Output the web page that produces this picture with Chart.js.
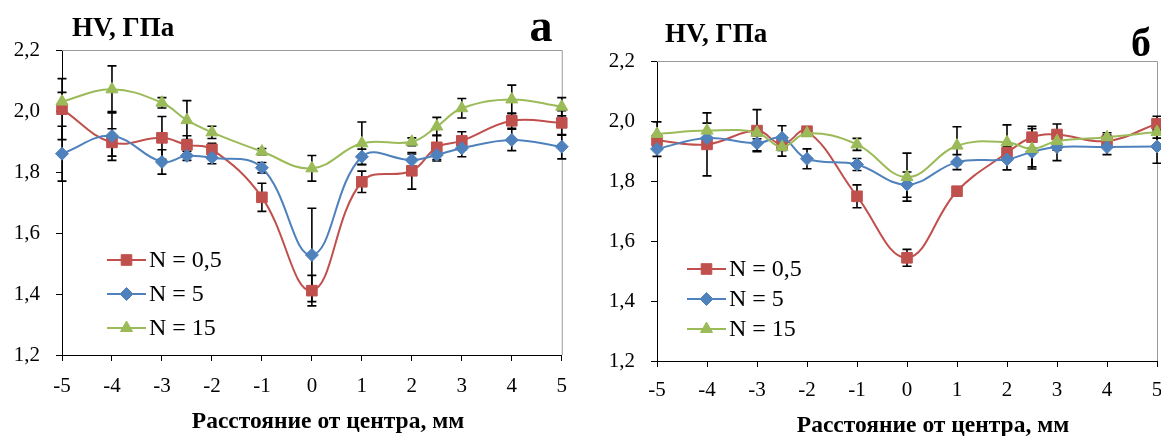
<!DOCTYPE html>
<html>
<head>
<meta charset="utf-8">
<script src="https://cdn.jsdelivr.net/npm/chart.js@4.4.1/dist/chart.umd.min.js"></script>
<style>
  html, body { margin: 0; padding: 0; background: #fff; overflow: hidden; width: 1161px; height: 436px; }
  canvas { position: absolute; top: 0; }
  #chartA { left: 0; }
  #chartB { left: 580px; }
  .probe { position: absolute; left: -1000px; top: 0; font-family: 'Liberation Serif'; }
</style>
</head>
<body>
<span class="probe">Ш</span><span class="probe" style="font-weight:bold">Ш</span>
<canvas id="chartA" width="580" height="436"></canvas>
<canvas id="chartB" width="600" height="436"></canvas>
<script>
// Distance from the weld centre, mm
const distances = [-5, -4, -3, -2.5, -2, -1, 0, 1, 2, 2.5, 3, 4, 5];
const seriesNames = ['N = 0,5', 'N = 5', 'N = 15'];
const xTickLabels = ['-5', '-4', '-3', '-2', '-1', '0', '1', '2', '3', '4', '5'];
const yTickLabels = ['1,2', '1,4', '1,6', '1,8', '2,0', '2,2'];
const yAxisTitle = 'HV, ГПа';
const xAxisTitle = 'Расстояние от центра, мм';
const panelLetters = ['а', 'б'];

// Panel а: hardness HV, GPa
const hvA_n05 = [2.006, 1.897, 1.912, 1.889, 1.874, 1.717, 1.411, 1.768, 1.804, 1.881, 1.902, 1.968, 1.961];
const hvA_n5  = [1.860, 1.918, 1.833, 1.853, 1.847, 1.814, 1.528, 1.850, 1.839, 1.856, 1.878, 1.905, 1.883];
const hvA_n15 = [2.031, 2.071, 2.027, 1.970, 1.930, 1.867, 1.812, 1.894, 1.899, 1.949, 2.009, 2.038, 2.014];
const errA_n05 = [0.100, 0.045, 0.070, 0.030, 0.020, 0.046, 0.050, 0.035, 0.060, 0.040, 0.030, 0.025, 0.040];
const errA_n5  = [0.090, 0.080, 0.040, 0.015, 0.020, 0.017, 0.153, 0.025, 0.020, 0.020, 0.028, 0.035, 0.040];
const errA_n15 = [0.030, 0.077, 0.017, 0.064, 0.020, 0.010, 0.042, 0.070, 0.013, 0.030, 0.032, 0.047, 0.030];

// Panel б: hardness HV, GPa
const hvB_n05 = [1.935, 1.922, 1.968, 1.922, 1.966, 1.749, 1.544, 1.766, 1.894, 1.946, 1.955, 1.933, 1.991];
const hvB_n5  = [1.907, 1.943, 1.926, 1.944, 1.874, 1.855, 1.788, 1.863, 1.872, 1.897, 1.913, 1.913, 1.915];
const hvB_n15 = [1.957, 1.968, 1.961, 1.913, 1.959, 1.922, 1.813, 1.918, 1.929, 1.907, 1.933, 1.946, 1.963];
const errB_n05 = [0.020, 0.105, 0.070, 0.020, 0.010, 0.038, 0.028, 0.010, 0.020, 0.036, 0.035, 0.020, 0.025];
const errB_n5  = [0.025, 0.020, 0.025, 0.040, 0.033, 0.020, 0.042, 0.025, 0.035, 0.050, 0.045, 0.025, 0.056];
const errB_n15 = [0.040, 0.025, 0.020, 0.030, 0.010, 0.020, 0.080, 0.063, 0.058, 0.067, 0.030, 0.015, 0.020];

const SERIF = 'Liberation Serif';
const COLORS = ['#C0504D', '#4F81BD', '#9BBB59'];
const MARKERS = [
  { style: 'rect', radius: 7.5 },
  { style: 'rectRot', radius: 6.5 },
  { style: 'triangle', radius: 7 }
];

function buildDatasets(values, errors) {
  return values.map((vals, i) => ({
    label: seriesNames[i],
    data: distances.map((x, k) => ({ x: x, y: vals[k] })),
    errorBars: errors[i],
    borderColor: COLORS[i],
    backgroundColor: COLORS[i],
    borderWidth: 2,
    pointStyle: MARKERS[i].style,
    pointRadius: MARKERS[i].radius,
    pointHoverRadius: MARKERS[i].radius,
    pointBorderWidth: 1,
    pointBorderColor: COLORS[i],
    pointBackgroundColor: COLORS[i],
    tension: 0.4,
    order: 2 - i,
    clip: false
  }));
}

// Grey plot-area frame on the top and right sides
const frameTopRight = {
  id: 'frameTopRight',
  beforeDatasetsDraw(chart) {
    const { ctx, chartArea: a } = chart;
    ctx.save();
    ctx.strokeStyle = '#9a9a9a';
    ctx.lineWidth = 1;
    ctx.beginPath();
    ctx.moveTo(a.left, a.top + 0.5);
    ctx.lineTo(a.right + 0.5, a.top + 0.5);
    ctx.lineTo(a.right + 0.5, a.bottom);
    ctx.stroke();
    ctx.restore();
  }
};

// Symmetric error bars with caps, positioned through the chart scales
const errorBars = {
  id: 'errorBars',
  beforeDatasetsDraw(chart) {
    const { ctx, scales: { x, y } } = chart;
    ctx.save();
    ctx.strokeStyle = '#000';
    ctx.lineWidth = 1.6;
    chart.data.datasets.forEach(ds => {
      ds.data.forEach((p, k) => {
        const e = ds.errorBars[k];
        const px = x.getPixelForValue(p.x);
        const top = y.getPixelForValue(p.y + e);
        const bot = y.getPixelForValue(p.y - e);
        ctx.beginPath();
        ctx.moveTo(px, top); ctx.lineTo(px, bot);
        ctx.moveTo(px - 4.5, top); ctx.lineTo(px + 4.5, top);
        ctx.moveTo(px - 4.5, bot); ctx.lineTo(px + 4.5, bot);
        ctx.stroke();
      });
    });
    ctx.restore();
  }
};

// Legend inside the plot area, axis captions and the panel letter
const annotations = {
  id: 'annotations',
  afterDraw(chart, args, opts) {
    const { ctx } = chart;
    ctx.save();
    chart.data.datasets.forEach((ds, i) => {
      const y = opts.legendY[i];
      ctx.strokeStyle = ds.borderColor;
      ctx.lineWidth = 2;
      ctx.beginPath();
      ctx.moveTo(opts.legendX, y);
      ctx.lineTo(opts.legendX + 39, y);
      ctx.stroke();
      ctx.fillStyle = ds.backgroundColor;
      ctx.strokeStyle = ds.borderColor;
      ctx.lineWidth = 1;
      Chart.helpers.drawPoint(ctx, {
        pointStyle: ds.pointStyle, radius: ds.pointRadius, rotation: 0, borderWidth: 1
      }, opts.legendX + 19.5, y);
      ctx.fillStyle = '#000';
      ctx.font = '24px "' + SERIF + '"';
      ctx.textBaseline = 'middle';
      ctx.textAlign = 'left';
      ctx.fillText(ds.label, opts.legendX + 42, y + 1);
    });
    ctx.fillStyle = '#000';
    ctx.textBaseline = 'alphabetic';
    // y-axis caption above the plot
    ctx.font = 'bold 27px "' + SERIF + '"';
    ctx.textAlign = 'left';
    ctx.fillText(yAxisTitle, opts.captionX, opts.captionY);
    // x-axis caption under the tick labels
    ctx.font = 'bold 23.5px "' + SERIF + '"';
    ctx.textAlign = 'center';
    ctx.fillText(xAxisTitle, opts.xTitleX, opts.xTitleY);
    // panel letter
    ctx.font = 'bold ' + opts.letterSize + 'px "' + SERIF + '"';
    ctx.fillText(opts.letter, opts.letterX, opts.letterY);
    ctx.restore();
  }
};

function makeChart(canvasId, datasets, geom) {
  return new Chart(document.getElementById(canvasId), {
    type: 'line',
    data: { datasets: datasets },
    plugins: [frameTopRight, errorBars, annotations],
    options: {
      responsive: false,
      animation: false,
      devicePixelRatio: 1,
      events: [],
      layout: { padding: { left: 0, top: geom.top, right: geom.right, bottom: 0 } },
      plugins: {
        legend: { display: false },
        tooltip: { enabled: false },
        annotations: geom.notes
      },
      scales: {
        x: {
          type: 'linear',
          min: -5, max: 5,
          afterFit(scale) { scale.height = geom.xHeight; },
          ticks: {
            stepSize: 1,
            autoSkip: false,
            maxRotation: 0,
            padding: geom.xTickPad,
            color: '#000',
            font: { family: SERIF, size: 21 },
            callback: v => xTickLabels[Math.round(v + 5)]
          },
          grid: { display: true, drawOnChartArea: false, drawTicks: true, tickLength: 6, color: '#000', lineWidth: 1 },
          border: { display: true, color: '#000', width: 1 }
        },
        y: {
          type: 'linear',
          min: 1.2, max: 2.2,
          afterFit(scale) { scale.width = geom.yWidth; },
          ticks: {
            stepSize: 0.2,
            padding: 16,
            color: '#000',
            font: { family: SERIF, size: 21 },
            callback: v => yTickLabels[Math.round((v - 1.2) / 0.2)]
          },
          grid: { display: true, drawOnChartArea: false, drawTicks: true, tickLength: 6, color: '#000', lineWidth: 1 },
          border: { display: true, color: '#000', width: 1 }
        }
      }
    }
  });
}

function drawAll() {
  makeChart('chartA', buildDatasets([hvA_n05, hvA_n5, hvA_n15], [errA_n05, errA_n5, errA_n15]), {
    top: 50, right: 15, yWidth: 62, xHeight: 81, xTickPad: 13,
    notes: {
      legendX: 107, legendY: [260, 294, 328],
      captionX: 72, captionY: 36,
      xTitleX: 328, xTitleY: 428,
      letter: panelLetters[0], letterX: 541, letterY: 41, letterSize: 46
    }
  });
  makeChart('chartB', buildDatasets([hvB_n05, hvB_n5, hvB_n15], [errB_n05, errB_n5, errB_n15]), {
    top: 61, right: 23, yWidth: 77, xHeight: 75, xTickPad: 11,
    notes: {
      legendX: 107, legendY: [269, 299, 329],
      captionX: 85, captionY: 42,
      xTitleX: 353, xTitleY: 432,
      letter: panelLetters[1], letterX: 561, letterY: 56, letterSize: 40
    }
  });
}

Promise.all([
  document.fonts.load('21px "Liberation Serif"'),
  document.fonts.load('bold 22px "Liberation Serif"')
]).then(drawAll, drawAll);
</script>
</body>
</html>
